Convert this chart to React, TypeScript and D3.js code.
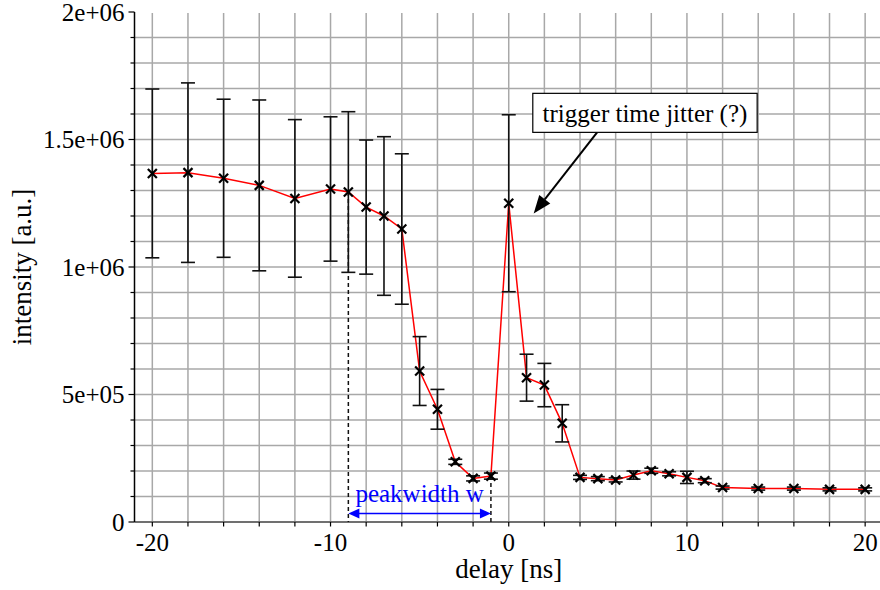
import React from "react";
import * as d3 from "d3";

const delays = [-20, -18, -16, -14, -12, -10, -9, -8, -7, -6, -5, -4, -3, -2, -1, 0, 1, 2, 3, 4, 5, 6, 7, 8, 9, 10, 11, 12, 14, 16, 18, 20];
const intensity = [1.367e6, 1.370e6, 1.348e6, 1.320e6, 1.269e6, 1.306e6, 1.294e6, 1.235e6, 1.200e6, 1.149e6, 0.592e6, 0.442e6, 0.236e6, 0.171e6, 0.180e6, 1.250e6, 0.566e6, 0.537e6, 0.387e6, 0.175e6, 0.170e6, 0.165e6, 0.184e6, 0.201e6, 0.189e6, 0.175e6, 0.162e6, 0.135e6, 0.131e6, 0.131e6, 0.128e6, 0.128e6];
const errors = [0.331e6, 0.352e6, 0.310e6, 0.335e6, 0.309e6, 0.283e6, 0.315e6, 0.263e6, 0.311e6, 0.295e6, 0.135e6, 0.078e6, 0.010e6, 0.010e6, 0.012e6, 0.347e6, 0.092e6, 0.085e6, 0.073e6, 0.008e6, 0.008e6, 0.008e6, 0.016e6, 0.010e6, 0.008e6, 0.024e6, 0.008e6, 0.006e6, 0.006e6, 0.006e6, 0.006e6, 0.006e6];

const xTicks = [-20, -10, 0, 10, 20];
const yTicks = [0, 5e5, 1e6, 1.5e6, 2e6];
const yTickLabels = ["0", "5e+05", "1e+06", "1.5e+06", "2e+06"];

const peakStart = -9;
const peakEnd = -1;
const peakLabel = "peakwidth w";
const noteLabel = "trigger time jitter (?)";

const TS = { fontFamily: "Liberation Serif" };

export default function App() {
  const W = 880, H = 590;
  const x = d3.scaleLinear().domain([-21, 20.85]).range([134.5, 880.3]);
  const y = d3.scaleLinear().domain([0, 2e6]).range([522, 12]);
  const left = x(-21), right = 880;
  const top = y(2e6), bottom = y(0);

  const vGrid = d3.range(-20, 21, 2);
  const hGrid = d3.range(1, 20).map((d) => d * 1e5);
  const minorY = d3.range(0, 21).map((d) => d * 1e5);

  const pts = delays.map((d, i) => ({ x: d, y: intensity[i], e: errors[i] }));
  const line = d3.line<{ x: number; y: number }>().x((d) => x(d.x)).y((d) => y(d.y));

  const ms = 4.5;
  const cap = 7;

  const iStart = delays.indexOf(peakStart);
  const iEnd = delays.indexOf(peakEnd);
  const arrowY = y(0.033e6);

  const boxX0 = x(1.35), boxX1 = x(13.94), boxY0 = y(1.681e6), boxY1 = y(1.528e6);
  const a0 = [x(4.96), y(1.528e6)];
  const a1 = [x(1.4), y(1.21e6)];
  const ang = Math.atan2(a1[1] - a0[1], a1[0] - a0[0]);
  const hl = 18, hw = 7;
  const bx = a1[0] - hl * Math.cos(ang), by = a1[1] - hl * Math.sin(ang);
  const head = [
    [a1[0], a1[1]],
    [bx + hw * Math.sin(ang), by - hw * Math.cos(ang)],
    [bx - hw * Math.sin(ang), by + hw * Math.cos(ang)],
  ];

  return (
    <div style={{ position: "fixed", left: 0, top: 0, width: W, height: H, background: "#fff" }}>
      <svg width={W} height={H} style={{ display: "block" }}>
        <rect x={0} y={0} width={W} height={H} fill="#fff" />
        {vGrid.map((g) => (
          <line key={"v" + g} x1={x(g)} x2={x(g)} y1={top + 1} y2={bottom} stroke="#a8a8a8" strokeWidth={1.5} />
        ))}
        {hGrid.map((g) => (
          <line key={"h" + g} x1={left} x2={right} y1={y(g)} y2={y(g)} stroke="#a8a8a8" strokeWidth={1.5} />
        ))}
        <line x1={left} x2={right} y1={bottom} y2={bottom} stroke="#707070" strokeWidth={2} />
        <line x1={left} x2={left} y1={top} y2={bottom} stroke="#000" strokeWidth={1.5} />
        {minorY.map((t, i) => (
          <line key={"yt" + i} x1={left - (i % 5 === 0 ? 6 : 4)} x2={left} y1={y(t)} y2={y(t)} stroke="#000" strokeWidth={1.2} />
        ))}
        {vGrid.map((t) => (
          <line key={"xt" + t} x1={x(t)} x2={x(t)} y1={bottom} y2={bottom + 4.5} stroke="#000" strokeWidth={1.2} />
        ))}
        {yTicks.map((t, i) => (
          <text key={"yl" + t} x={left - 10} y={y(t)} dy="0.35em" textAnchor="end" fontSize={25} style={TS} fill="#000">
            {yTickLabels[i]}
          </text>
        ))}
        {xTicks.map((t) => (
          <text key={"xl" + t} x={x(t)} y={551} textAnchor="middle" fontSize={25} style={TS} fill="#000">
            {t}
          </text>
        ))}
        <text x={x(0)} y={578} textAnchor="middle" fontSize={27} style={TS} fill="#000">delay [ns]</text>
        <text transform={`translate(31,${(top + bottom) / 2}) rotate(-90)`} textAnchor="middle" fontSize={27} style={TS} fill="#000">
          intensity [a.u.]
        </text>

        <line x1={x(peakStart)} x2={x(peakStart)} y1={y(intensity[iStart])} y2={bottom} stroke="#111" strokeWidth={1.5} strokeDasharray="4,3" />
        <line x1={x(peakEnd)} x2={x(peakEnd)} y1={y(intensity[iEnd])} y2={bottom} stroke="#111" strokeWidth={1.5} strokeDasharray="4,3" />

        <path d={line(pts) || ""} fill="none" stroke="#ff0000" strokeWidth={1.5} />

        {pts.map((p, i) => (
          <g key={"e" + i} stroke="#111" strokeWidth={1.6}>
            <line x1={x(p.x)} x2={x(p.x)} y1={y(p.y - p.e)} y2={y(p.y + p.e)} />
            <line x1={x(p.x) - cap} x2={x(p.x) + cap} y1={y(p.y + p.e)} y2={y(p.y + p.e)} />
            <line x1={x(p.x) - cap} x2={x(p.x) + cap} y1={y(p.y - p.e)} y2={y(p.y - p.e)} />
          </g>
        ))}
        {pts.map((p, i) => (
          <g key={"m" + i} stroke="#000" strokeWidth={2.2}>
            <line x1={x(p.x) - ms} x2={x(p.x) + ms} y1={y(p.y) - ms} y2={y(p.y) + ms} />
            <line x1={x(p.x) - ms} x2={x(p.x) + ms} y1={y(p.y) + ms} y2={y(p.y) - ms} />
          </g>
        ))}

        <line x1={x(peakStart) + 8} x2={x(peakEnd) - 8} y1={arrowY} y2={arrowY} stroke="#0000ff" strokeWidth={1.5} />
        <polygon points={`${x(peakStart)},${arrowY} ${x(peakStart) + 11},${arrowY - 5} ${x(peakStart) + 11},${arrowY + 5}`} fill="#0000ff" />
        <polygon points={`${x(peakEnd)},${arrowY} ${x(peakEnd) - 11},${arrowY - 5} ${x(peakEnd) - 11},${arrowY + 5}`} fill="#0000ff" />
        <text x={x((peakStart + peakEnd) / 2)} y={502} textAnchor="middle" fontSize={25} style={TS} fill="#0000ff">{peakLabel}</text>

        <line x1={a0[0]} y1={a0[1]} x2={bx} y2={by} stroke="#000" strokeWidth={2} />
        <polygon points={head.map((p) => p.join(",")).join(" ")} fill="#000" />
        <rect x={boxX0} y={boxY0} width={boxX1 - boxX0} height={boxY1 - boxY0} fill="#fff" stroke="#000" strokeWidth={1.2} />
        <text x={(boxX0 + boxX1) / 2} y={121.5} textAnchor="middle" fontSize={25} style={TS} fill="#000">{noteLabel}</text>
      </svg>
    </div>
  );
}
